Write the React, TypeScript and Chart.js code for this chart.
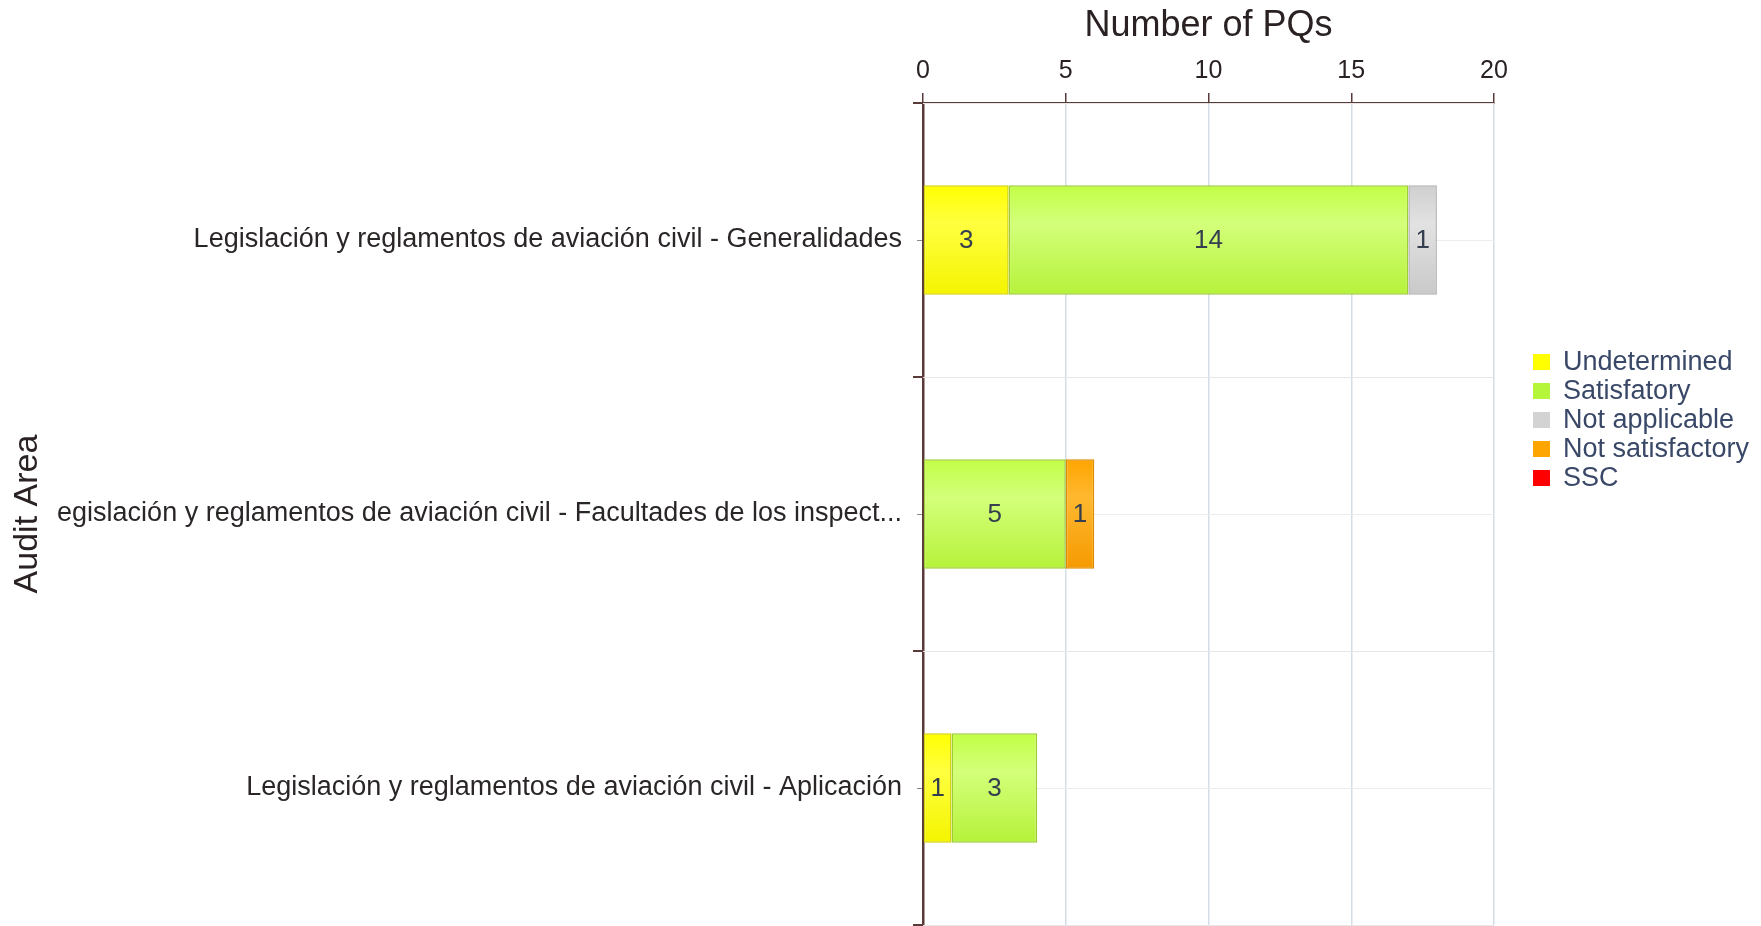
import React, { useEffect, useRef } from "react";
import { Chart, registerables } from "chart.js";

Chart.register(...registerables);

const categories = [
  "Legislación y reglamentos de aviación civil - Generalidades",
  "egislación y reglamentos de aviación civil - Facultades de los inspect...",
  "Legislación y reglamentos de aviación civil - Aplicación",
];
const seriesNames = ["Undetermined", "Satisfatory", "Not applicable", "Not satisfactory", "SSC"];
const undetermined = [3, 0, 1];
const satisfactory = [14, 5, 3];
const notApplicable = [1, 0, 0];
const notSatisfactory = [0, 1, 0];
const ssc = [0, 0, 0];
const xTicks = [0, 5, 10, 15, 20];

const FONT = "'Liberation Sans', Arial, sans-serif";
const AXIS = "#5b3a3a";

const palette = [
  { top: "#ffff00", mid: "#ffff40", bottom: "#f4f400", border: "#d2d200" },
  { top: "#c2ff45", mid: "#d3ff7a", bottom: "#b6f23a", border: "#9ccc30" },
  { top: "#cfcfcf", mid: "#e2e2e2", bottom: "#c9c9c9", border: "#b0b0b0" },
  { top: "#ffa500", mid: "#ffb830", bottom: "#f59a00", border: "#e08a00" },
  { top: "#ff0000", mid: "#ff3030", bottom: "#ee0000", border: "#cc0000" },
];
const legendColors = ["#ffff00", "#b5f53a", "#d3d3d3", "#ffa500", "#ff0000"];

function gradientFor(idx: number) {
  return (ctx: any) => {
    const chart = ctx.chart;
    const p = palette[idx];
    if (!chart.chartArea || ctx.type !== "data") return p.top;
    const y = chart.scales.y;
    const c = y.getPixelForValue(ctx.dataIndex);
    const band = Math.abs(y.getPixelForValue(1) - y.getPixelForValue(0));
    const half = (band * 0.4) / 2;
    const g = chart.ctx.createLinearGradient(0, c - half, 0, c + half);
    g.addColorStop(0, p.top);
    g.addColorStop(0.35, p.mid);
    g.addColorStop(1, p.bottom);
    return g;
  };
}

const extrasPlugin = {
  id: "extras",
  beforeDatasetsDraw(chart: any) {
    const { ctx, chartArea } = chart;
    const y = chart.scales.y;
    ctx.save();
    ctx.strokeStyle = "#e6e6e6";
    ctx.lineWidth = 1;
    for (let i = 0; i <= categories.length; i++) {
      const py = Math.round(y.getPixelForValue(i - 0.5)) + 0.5;
      ctx.beginPath();
      ctx.moveTo(chartArea.left, py);
      ctx.lineTo(chartArea.right, py);
      ctx.stroke();
    }
    ctx.restore();
  },
  afterDatasetsDraw(chart: any) {
    const { ctx, chartArea } = chart;
    const y = chart.scales.y;
    ctx.save();
    // boundary ticks
    ctx.strokeStyle = AXIS;
    ctx.lineWidth = 2;
    for (let i = 0; i <= categories.length; i++) {
      const py = Math.round(y.getPixelForValue(i - 0.5));
      ctx.beginPath();
      ctx.moveTo(chartArea.left - 10, py);
      ctx.lineTo(chartArea.left, py);
      ctx.stroke();
    }
    // data labels
    ctx.font = `26px ${FONT}`;
    ctx.fillStyle = "#343e4e";
    ctx.textAlign = "center";
    ctx.textBaseline = "middle";
    chart.data.datasets.forEach((ds: any, di: number) => {
      const meta = chart.getDatasetMeta(di);
      meta.data.forEach((el: any, i: number) => {
        const v = ds.data[i];
        if (!v) return;
        const { x, base, y: ey } = el.getProps(["x", "base", "y"], true);
        ctx.fillText(String(v), (x + base) / 2, ey + 1);
      });
    });
    // legend
    const lx = 1533;
    const ly0 = 362;
    const step = 29;
    ctx.textAlign = "left";
    ctx.font = `27px ${FONT}`;
    seriesNames.forEach((name, i) => {
      const cy = ly0 + i * step;
      ctx.fillStyle = legendColors[i];
      ctx.fillRect(lx, cy - 8, 17, 16);
      ctx.fillStyle = "#3a4868";
      ctx.fillText(name, lx + 30, cy + 1);
    });
    ctx.restore();
  },
};

export default function App() {
  const ref = useRef<HTMLCanvasElement | null>(null);
  useEffect(() => {
    document.body.style.margin = "0";
    Chart.defaults.font.family = FONT;
    const values = [undetermined, satisfactory, notApplicable, notSatisfactory, ssc];
    const chart = new Chart(ref.current as HTMLCanvasElement, {
      type: "bar",
      data: {
        labels: categories,
        datasets: seriesNames.map((name, i) => ({
          label: name,
          data: values[i],
          backgroundColor: gradientFor(i),
          borderColor: palette[i].border,
          borderWidth: 1.5,
          borderSkipped: false,
          barPercentage: 0.4,
          categoryPercentage: 1,
        })),
      },
      options: {
        indexAxis: "y",
        animation: false,
        responsive: false,
        devicePixelRatio: 1,
        layout: { padding: { top: 0, left: 0, right: 267, bottom: 1 } },
        plugins: { legend: { display: false }, tooltip: { enabled: false } },
        scales: {
          x: {
            position: "top",
            stacked: true,
            min: 0,
            max: 20,
            afterBuildTicks: (s: any) => {
              s.ticks = xTicks.map((v) => ({ value: v }));
            },
            ticks: { font: { size: 25 }, color: "#2a2222", padding: 7 },
            grid: { color: "#d3dde8", tickColor: AXIS, tickLength: 10, lineWidth: 1.5 },
            border: { color: AXIS, width: 2 },
            title: {
              display: true,
              text: "Number of PQs",
              font: { size: 36 },
              color: "#2a2222",
              padding: { top: 4, bottom: 0 },
            },
            afterFit: (s: any) => {
              s.height = 103;
              s.paddingLeft = 0;
              s.paddingRight = 0;
            },
          },
          y: {
            stacked: true,
            offset: true,
            grid: { offset: false, color: "#ececec", tickColor: "#8a8a8a", tickLength: 6, lineWidth: 1 },
            border: { color: AXIS, width: 2.5 },
            ticks: { font: { size: 27 }, color: "#2a2626", padding: 15 },
            title: {
              display: true,
              text: "Audit Area",
              font: { size: 34 },
              color: "#2a2222",
              padding: { top: 7, bottom: 0 },
            },
            afterFit: (s: any) => {
              s.width = 923;
              s.paddingTop = 0;
              s.paddingBottom = 0;
            },
          },
        },
      },
      plugins: [extrasPlugin],
    } as any);
    return () => chart.destroy();
  }, []);
  return (
    <div style={{ width: 1761, height: 926 }}>
      <canvas ref={ref} width={1761} height={926} style={{ display: "block" }} />
    </div>
  );
}
